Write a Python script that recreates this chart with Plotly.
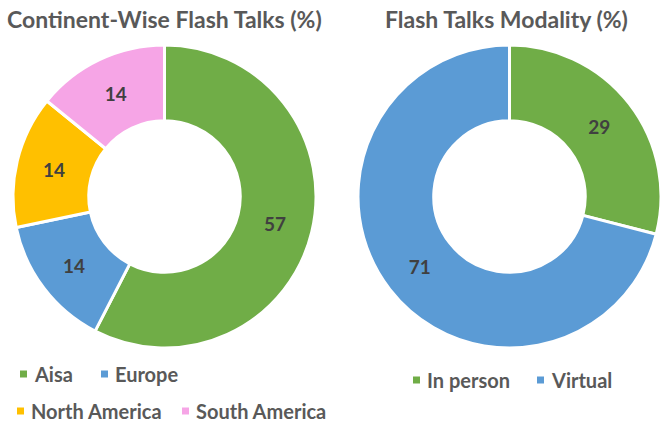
import plotly.graph_objects as go

# ---- data ----
continent_labels = ["Aisa", "Europe", "North America", "South America"]
continent_values = [57, 14, 14, 14]
continent_colors = ["#70AD47", "#5B9BD5", "#FFC000", "#F6A5E6"]

modality_labels = ["In person", "Virtual"]
modality_values = [29, 71]
modality_colors = ["#70AD47", "#5B9BD5"]

title_left = "Continent-Wise Flash Talks (%)"
title_right = "Flash Talks Modality (%)"

W, H = 666, 422
FONT = "Lato"
TXT = "#595959"

fig = go.Figure()

def pie(labels, values, colors, cx, cy, r):
    fig.add_trace(go.Pie(
        labels=labels, values=values, sort=False, direction="clockwise",
        rotation=0, hole=0.5,
        marker=dict(colors=colors, line=dict(color="white", width=3)),
        texttemplate="%{value}", textposition="inside",
        insidetextorientation="horizontal",
        textfont=dict(family=FONT, size=19, color="#404040", weight="bold"),
        showlegend=False, hoverinfo="label+value",
        domain=dict(x=[(cx - r) / W, (cx + r) / W],
                    y=[1 - (cy + r) / H, 1 - (cy - r) / H]),
    ))

pie(continent_labels, continent_values, continent_colors, 164.5, 196.5, 151.5)
pie(modality_labels, modality_values, modality_colors, 509.5, 196.5, 151.5)

annotations = []
shapes = []

def title(text, cx):
    annotations.append(dict(
        text="<b>%s</b>" % text, x=cx / W, y=1 - 19 / H, xref="paper", yref="paper",
        xanchor="center", yanchor="middle", showarrow=False,
        font=dict(family=FONT, size=23, color=TXT)))

title(title_left, 164)
title(title_right, 506)

def legend_item(label, color, x_sq, y):
    s = 7
    shapes.append(dict(type="rect", xref="paper", yref="paper",
                       x0=x_sq / W, x1=(x_sq + s) / W,
                       y0=1 - (y + s / 2) / H, y1=1 - (y - s / 2) / H,
                       fillcolor=color, line=dict(width=0)))
    annotations.append(dict(
        text="<b>%s</b>" % label, x=(x_sq + 12) / W, y=1 - y / H,
        xref="paper", yref="paper", xanchor="left", yanchor="middle",
        showarrow=False, font=dict(family=FONT, size=20, color=TXT)))

left_pos = [(20, 374), (101, 374), (17, 411), (182, 411)]
for lab, col, (x, y) in zip(continent_labels, continent_colors, left_pos):
    legend_item(lab, col, x, y)

right_pos = [(413, 380), (537, 380)]
for lab, col, (x, y) in zip(modality_labels, modality_colors, right_pos):
    legend_item(lab, col, x, y)

fig.update_layout(
    width=W, height=H, margin=dict(l=0, r=0, t=0, b=0),
    paper_bgcolor="white", plot_bgcolor="white",
    annotations=annotations, shapes=shapes,
    font=dict(family=FONT),
)

fig.write_html("out.html")
